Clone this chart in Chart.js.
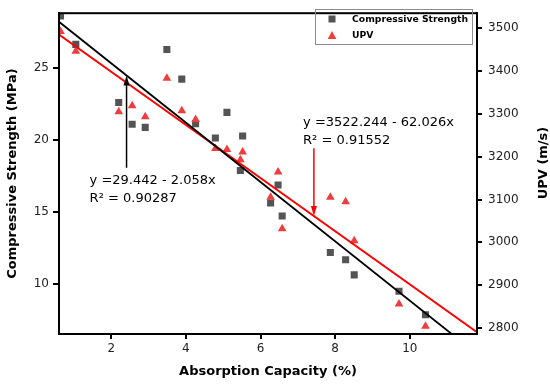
<!DOCTYPE html>
<html><head><meta charset="utf-8">
<script src="https://cdn.jsdelivr.net/npm/chart.js@4.4.1/dist/chart.umd.min.js"></script>
<style>html,body{margin:0;padding:0;background:#fff;}canvas{display:block;}</style>
</head><body>
<canvas id="c" width="550" height="387"></canvas>
<script>
// ---- data ----
const absorption = [0.64,1.05,2.2,2.56,2.91,3.49,3.89,4.26,4.79,5.1,5.52,5.46,6.27,6.47,6.58,7.87,8.28,8.51,9.71,10.42];
const compressive = [28.6,26.64,22.61,21.1,20.88,26.28,24.23,21.13,20.14,21.92,20.28,17.89,15.64,16.89,14.73,12.2,11.7,10.65,9.52,7.88];
const upv = [3492,3446,3305,3319,3293,3383,3307,3287,3219,3217,3211,3193,3105,3164,3032,3105,3095,3004,2856,2804];
const xTicks = [2,4,6,8,10];
const csTicks = [10,15,20,25];
const upvTicks = [2800,2900,3000,3100,3200,3300,3400,3500];
// regression coefficients (from the chart annotations)
const csIntercept = 29.442, csSlope = -2.058, csR2 = '0.90287';
const upvIntercept = 3522.244, upvSlope = -62.026, upvR2 = '0.91552';
// axis ranges
const xMin = 0.6, xMax = 11.8;
const csMin = 6.55, csMax = 28.8;
const upvMin = 2786, upvMax = 3535;

const FONT = "'DejaVu Sans', sans-serif";
const SQ_COLOR = '#545454', TRI_COLOR = '#f03c3c';

const fitLine = (a, b) => [{x:xMin, y:a + b*xMin}, {x:xMax, y:a + b*xMax}];
const pts = (ys) => absorption.map((x, i) => ({x, y: ys[i]}));

function arrow(ctx, px, y0, y1, color){
  ctx.strokeStyle = color; ctx.fillStyle = color; ctx.lineWidth = 1.5;
  const dir = Math.sign(y1 - y0);
  ctx.beginPath(); ctx.moveTo(px, y0); ctx.lineTo(px, y1 - dir*8); ctx.stroke();
  ctx.beginPath(); ctx.moveTo(px, y1); ctx.lineTo(px - 3, y1 - dir*10); ctx.lineTo(px + 3, y1 - dir*10); ctx.closePath(); ctx.fill();
}

function fitFont(ctx, text, maxW, size, weight){
  let s = size;
  ctx.font = weight + ' ' + s + 'px ' + FONT;
  while (ctx.measureText(text).width > maxW && s > 6) { s -= 0.25; ctx.font = weight + ' ' + s + 'px ' + FONT; }
  return s;
}

const decor = {
  id: 'decor',
  afterDatasetsDraw(chart){
    const {ctx, chartArea:a, scales} = chart;
    const x = scales.x, y = scales.y, y1 = scales.y1;
    ctx.save();
    // frame
    ctx.strokeStyle = '#000'; ctx.lineWidth = 2;
    ctx.strokeRect(a.left, a.top, a.right - a.left, a.bottom - a.top);
    // arrows
    const ax1 = 2.41, ax2 = 7.43;
    arrow(ctx, x.getPixelForValue(ax1), y.getPixelForValue(18.08), y.getPixelForValue(csIntercept + csSlope*ax1), '#000');
    arrow(ctx, x.getPixelForValue(ax2), y1.getPixelForValue(3219.5), y1.getPixelForValue(upvIntercept + upvSlope*ax2), '#ff0000');
    // annotation texts
    ctx.fillStyle = '#000'; ctx.font = '13px ' + FONT; ctx.textAlign = 'left'; ctx.textBaseline = 'middle';
    let tx = x.getPixelForValue(1.42), ty = y.getPixelForValue(17.16);
    ctx.fillText('y =' + csIntercept.toFixed(3) + ' - ' + Math.abs(csSlope).toFixed(3) + 'x', tx, ty);
    ctx.fillText('R\u00B2 = ' + csR2, tx, ty + 17.5);
    tx = x.getPixelForValue(7.14); ty = y1.getPixelForValue(3279);
    ctx.fillText('y =' + upvIntercept.toFixed(3) + ' - ' + Math.abs(upvSlope).toFixed(3) + 'x', tx, ty);
    ctx.fillText('R\u00B2 = ' + upvR2, tx, ty + 18);
    // legend
    ctx.strokeStyle = '#8c8c8c'; ctx.lineWidth = 1;
    ctx.strokeRect(315.5, 9.5, 157, 35);
    ctx.fillStyle = SQ_COLOR; ctx.fillRect(328.5, 15.5, 7, 7);
    ctx.fillStyle = TRI_COLOR;
    ctx.beginPath(); ctx.moveTo(332, 31); ctx.lineTo(336.3, 39); ctx.lineTo(327.7, 39); ctx.closePath(); ctx.fill();
    ctx.fillStyle = '#000';
    fitFont(ctx, 'Compressive Strength', 117, 11, 'bold');
    ctx.fillText('Compressive Strength', 352, 19.5);
    ctx.fillText('UPV', 352, 35.5);
    // right axis title (reads bottom to top)
    ctx.translate(544, 163); ctx.rotate(-Math.PI/2);
    ctx.textAlign = 'center'; ctx.font = 'bold 13px ' + FONT;
    ctx.fillText('UPV (m/s)', 0, 0);
    ctx.restore();
  }
};

const axisCommon = (ticksArr, size) => ({
  type: 'linear',
  afterBuildTicks: s => { s.ticks = ticksArr.map(v => ({value: v})); },
  border: {display: true, color: '#000', width: 2},
  grid: {display: true, drawOnChartArea: false, drawTicks: true, tickLength: size, color: '#000', lineWidth: 2},
});
const plain = v => String(v);

new Chart(document.getElementById('c'), {
  type: 'scatter',
  data: {datasets: [
    {label: 'fitCS', type: 'line', data: fitLine(csIntercept, csSlope), yAxisID: 'y', borderColor: '#000', borderWidth: 1.8, pointRadius: 0, fill: false, order: 0},
    {label: 'fitUPV', type: 'line', data: fitLine(upvIntercept, upvSlope), yAxisID: 'y1', borderColor: '#ff0000', borderWidth: 1.8, pointRadius: 0, fill: false, order: 0},
    {label: 'UPV', data: pts(upv), yAxisID: 'y1', pointStyle: 'triangle', pointRadius: 5, backgroundColor: TRI_COLOR, borderWidth: 0, order: 1},
    {label: 'Compressive Strength', data: pts(compressive), yAxisID: 'y', pointStyle: 'rect', pointRadius: 5, backgroundColor: SQ_COLOR, borderWidth: 0, order: 2}
  ]},
  options: {
    responsive: false, animation: false, devicePixelRatio: 1,
    layout: {padding: {top: 4, left: 0, right: 0, bottom: 0}},
    plugins: {legend: {display: false}, tooltip: {enabled: false}},
    scales: {
      x: Object.assign(axisCommon(xTicks, 5), {
        position: 'bottom', min: xMin, max: xMax,
        afterFit: s => { s.height = 53; },
        ticks: {font: {family: FONT, size: 12}, color: '#222', padding: 3, maxRotation: 0, callback: plain},
        title: {display: true, text: 'Absorption Capacity (%)', color: '#000', font: {family: FONT, size: 13, weight: 'bold'}, padding: {top: 0, bottom: 7.5}}
      }),
      y: Object.assign(axisCommon(csTicks, 6), {
        position: 'left', min: csMin, max: csMax,
        afterFit: s => { s.width = 59; },
        ticks: {font: {family: FONT, size: 12}, color: '#222', padding: 4, callback: plain},
        title: {display: true, text: 'Compressive Strength (MPa)', color: '#000', font: {family: FONT, size: 13, weight: 'bold'}, padding: {top: 5, bottom: 0}}
      }),
      y1: Object.assign(axisCommon(upvTicks, 5), {
        position: 'right', min: upvMin, max: upvMax,
        afterFit: s => { s.width = 73; },
        ticks: {font: {family: FONT, size: 12}, color: '#222', padding: 6, callback: plain}
      })
    }
  },
  plugins: [decor]
});
</script>
</body></html>
